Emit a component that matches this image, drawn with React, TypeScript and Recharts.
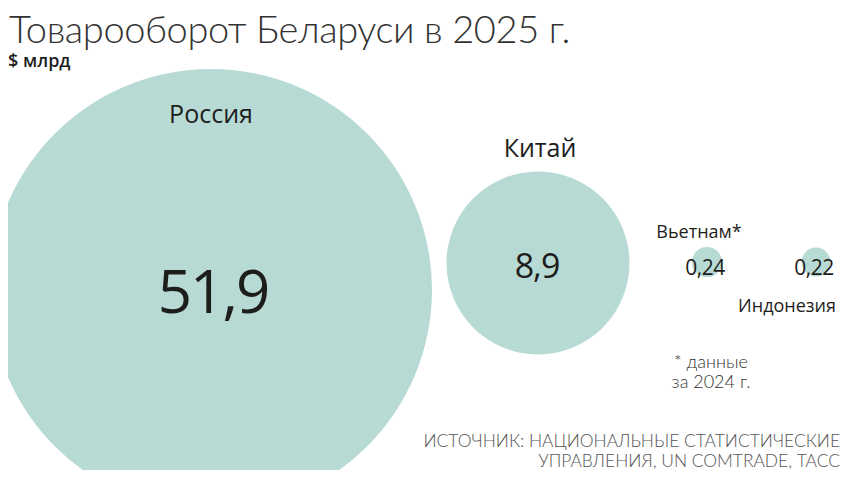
import React from 'react';
import { ScatterChart, Scatter, XAxis, YAxis, ZAxis } from 'recharts';

// ---- data ----
const countries = ['Россия', 'Китай', 'Вьетнам*', 'Индонезия'];
const values = [51.9, 8.9, 0.24, 0.22];
const valueLabels = ['51,9', '8,9', '0,24', '0,22'];

// ---- layout (bubble centres in page pixels) ----
const slotX = [211, 538, 707, 816];
const slotY = [290, 263, 262, 262];
const maxRadius = 221;

const namePlace = [
  { dx: 0, dy: -167, fs: 25 },
  { dx: 2, dy: -106, fs: 25 },
  { dx: -8, dy: -24, fs: 18 },
  { dx: -29, dy: 50, fs: 18 },
];
const valuePlace = [
  { dx: 2, dy: 23, fs: 60, ls: -2 },
  { dx: -1, dy: 15, fs: 34, ls: -1 },
  { dx: -2, dy: 13, fs: 21, ls: -0.5 },
  { dx: -2, dy: 13, fs: 21, ls: -0.5 },
];

const data = countries.map((name, i) => ({
  name,
  value: values[i],
  label: valueLabels[i],
  x: slotX[i],
  y: slotY[i],
}));

const FONT = '"Open Sans", "Noto Sans", sans-serif';
const LIGHT = 'Lato, "Open Sans", sans-serif';
const INK = '#1d1d1b';
const FILL = '#b8dad5';

const Bubble = (props: any) => {
  const { cx, cy, size, payload } = props;
  const i = countries.indexOf(payload.name);
  const r = Math.sqrt(size / Math.PI);
  const np = namePlace[i];
  const vp = valuePlace[i];
  return (
    <g>
      <circle cx={cx} cy={cy} r={r} fill={FILL} />
      <text
        x={cx + np.dx}
        y={cy + np.dy}
        textAnchor="middle"
        fontFamily={FONT}
        fontSize={np.fs}
        fill={INK}
      >
        {payload.name}
      </text>
      <text
        x={cx + vp.dx}
        y={cy + vp.dy}
        textAnchor="middle"
        fontFamily={FONT}
        fontSize={vp.fs}
        letterSpacing={vp.ls}
        fill={INK}
      >
        {payload.label}
      </text>
    </g>
  );
};

export default function App() {
  return (
    <div style={{ position: 'relative', width: 841, height: 462, overflow: 'hidden', fontFamily: FONT }}>
      <div style={{ position: 'absolute', left: 0, top: 0 }}>
        <ScatterChart width={841} height={462} margin={{ top: 0, right: 0, bottom: 0, left: 0 }}>
          <XAxis type="number" dataKey="x" domain={[8, 849]} hide />
          <YAxis type="number" dataKey="y" domain={[8, 470]} reversed hide />
          <ZAxis
            type="number"
            dataKey="value"
            domain={[0, values[0]]}
            range={[0, Math.PI * maxRadius * maxRadius]}
          />
          <Scatter data={data} shape={<Bubble />} isAnimationActive={false} />
        </ScatterChart>
      </div>
      <div
        style={{
          position: 'absolute',
          left: 1,
          top: 2,
          fontFamily: LIGHT,
          fontSize: 38,
          fontWeight: 300,
          letterSpacing: -0.4,
          color: '#333',
          whiteSpace: 'nowrap',
          lineHeight: '36px',
        }}
      >
        Товарооборот Беларуси в 2025 г.
      </div>
      <div
        style={{
          position: 'absolute',
          left: 0,
          top: 42,
          fontSize: 18,
          fontWeight: 600,
          color: INK,
          whiteSpace: 'nowrap',
          lineHeight: '20px',
        }}
      >
        $ млрд
      </div>
      <div
        style={{
          position: 'absolute',
          left: 653,
          width: 100,
          top: 343,
          fontFamily: LIGHT,
          fontSize: 18,
          fontWeight: 300,
          color: '#333',
          textAlign: 'center',
          lineHeight: '20px',
        }}
      >
        * данные
        <br />
        за 2024 г.
      </div>
      <div
        style={{
          position: 'absolute',
          right: 9,
          top: 423,
          fontFamily: LIGHT,
          fontSize: 17.4,
          fontWeight: 300,
          color: '#555',
          textAlign: 'right',
          lineHeight: '20px',
          whiteSpace: 'nowrap',
        }}
      >
        ИСТОЧНИК: НАЦИОНАЛЬНЫЕ СТАТИСТИЧЕСКИЕ
        <br />
        УПРАВЛЕНИЯ, UN COMTRADE, ТАСС
      </div>
    </div>
  );
}
